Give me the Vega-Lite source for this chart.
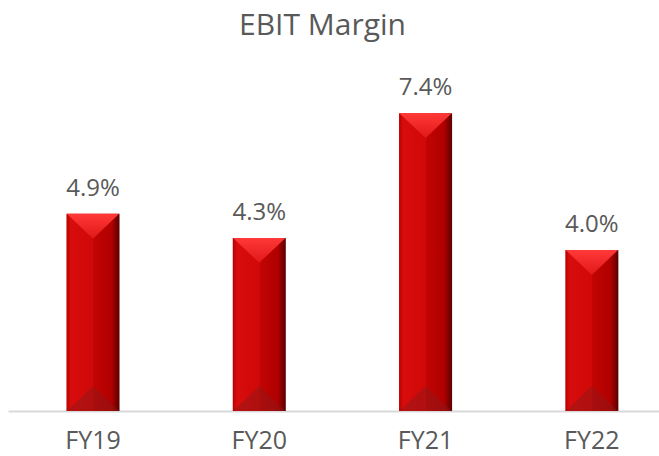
{
  "$schema": "https://vega.github.io/schema/vega-lite/v6.json",
  "width": 651,
  "height": 322,
  "autosize": {"type": "none"},
  "padding": {"left": 8, "top": 89, "right": 0, "bottom": 45},
  "background": "white",
  "title": {
    "text": "EBIT Margin",
    "font": "Open Sans",
    "fontSize": 30,
    "fontWeight": "normal",
    "color": "#595959",
    "anchor": "middle",
    "dx": -11,
    "offset": 35
  },
  "data": {
    "values": [
      {"year": "FY19", "margin": 4.9, "label": "4.9%"},
      {"year": "FY20", "margin": 4.3, "label": "4.3%"},
      {"year": "FY21", "margin": 7.4, "label": "7.4%"},
      {"year": "FY22", "margin": 4.0, "label": "4.0%"}
    ]
  },
  "encoding": {
    "x": {
      "field": "year",
      "type": "nominal",
      "sort": null,
      "scale": {"paddingInner": 0.681, "paddingOuter": 0.298, "align": 0.59},
      "axis": {
        "title": null,
        "labelAngle": 0,
        "ticks": false,
        "domainColor": "#d9d9d9",
        "domainWidth": 2,
        "labelFont": "Open Sans",
        "labelFontSize": 25,
        "labelColor": "#595959",
        "labelPadding": 17
      }
    },
    "y": {
      "field": "margin",
      "type": "quantitative",
      "scale": {"domain": [0, 8]},
      "axis": null
    }
  },
  "layer": [
    {
      "mark": {
        "type": "bar",
        "color": {
          "gradient": "linear",
          "x1": 0, "y1": 0, "x2": 1, "y2": 0,
          "stops": [
            {"offset": 0, "color": "#b80000"},
            {"offset": 0.08, "color": "#d80c0c"},
            {"offset": 0.5, "color": "#d00808"},
            {"offset": 0.51, "color": "#c20404"},
            {"offset": 0.85, "color": "#b00000"},
            {"offset": 1, "color": "#5a0000"}
          ]
        }
      }
    },
    {
      "mark": {
        "type": "point",
        "shape": "M -1 0 L 1 0 L 0 0.95 Z",
        "size": 2750,
        "filled": true,
        "opacity": 1,
        "color": {
          "gradient": "linear",
          "x1": 0, "y1": 0, "x2": 0, "y2": 1,
          "stops": [
            {"offset": 0, "color": "#ff3838"},
            {"offset": 1, "color": "#e01818"}
          ]
        }
      }
    },
    {
      "mark": {
        "type": "point",
        "shape": "M -1 0 L 1 0 L 0 -0.95 Z",
        "size": 2750,
        "filled": true,
        "opacity": 0.45,
        "color": "#8a1a1a"
      },
      "encoding": {"y": {"datum": 0}}
    },
    {
      "mark": {
        "type": "text",
        "baseline": "alphabetic",
        "dy": -18,
        "font": "Open Sans",
        "fontSize": 24,
        "color": "#595959"
      },
      "encoding": {"text": {"field": "label"}}
    }
  ],
  "config": {"view": {"stroke": null}}
}
